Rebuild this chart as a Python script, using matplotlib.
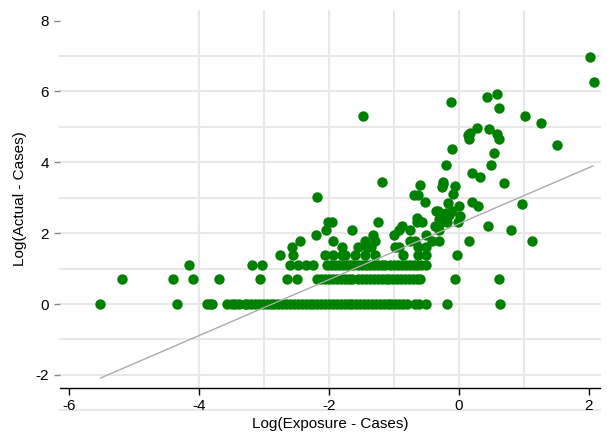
import numpy as np
import matplotlib.pyplot as plt

plt.rcParams['font.family'] = ['Liberation Sans', 'DejaVu Sans']
plt.rcParams['axes.unicode_minus'] = False

# rows of points sitting on log of small counts
row0_x = [-5.52, -4.34, -3.88, -3.83, -3.8, -3.57, -3.5, -3.45, -3.38, -3.3,
          -3.26, -3.2, -3.14, -3.08, -3.02, -2.96, -2.9, -2.84, -2.78, -2.72,
          -2.66, -2.6, -2.54, -2.48, -2.42, -2.36, -2.3, -2.24, -2.18, -2.12,
          -2.06, -2.0, -1.94, -1.88, -1.82, -1.76, -1.7, -1.64, -1.58, -1.52,
          -1.46, -1.4, -1.34, -1.28, -1.22, -1.16, -1.1, -1.04, -0.98, -0.92,
          -0.86, -0.8, -0.68, -0.62, -0.5, -0.18, 0.63]
row1_x = [-5.18, -4.4, -4.1, -3.69, -3.06, -2.65, -2.5,
          -2.18, -2.12, -2.06, -2.0, -1.94, -1.88, -1.82, -1.76, -1.7, -1.65,
          -1.55, -1.49, -1.43, -1.37, -1.31, -1.25, -1.19, -1.13, -1.07, -1.01,
          -0.95, -0.89, -0.83, -0.77, -0.71, -0.65, -0.6, -0.06, 0.62]
row2_x = [-4.15, -3.18, -3.03, -2.6, -2.48, -2.35, -2.25,
          -2.03, -1.97, -1.91, -1.85, -1.79, -1.73, -1.67, -1.63,
          -1.55, -1.49, -1.43, -1.37, -1.31, -1.25, -1.19, -1.14,
          -1.06, -1.0, -0.94, -0.88, -0.82, -0.76, -0.7, -0.64, -0.58, -0.5]
row3_x = [-2.75, -2.55, -2.06, -1.94, -1.8, -1.75, -1.6, -1.45, -1.3,
          -0.86, -0.63, -0.5, -0.03]
row4_x = [-2.57, -1.8, -1.55, -1.42, -1.35, -0.98, -0.93, -0.63, -0.5]
row5_x = [-2.45, -1.94, -1.45, -1.3, -0.75, -0.68, -0.42, -0.3, 0.15, 1.12]
row6_x = [-2.2, -1.32, -1.0, -0.5]
row7_x = [-2.05, -1.65, -0.92, -0.75, -0.3, 0.8]
row8_x = [-0.88, -0.37, -0.34, 0.45]
row9_x = [-2.02, -1.95, -1.25, -0.65, -0.57, -0.26, -0.18, -0.02]

rows_x = [row0_x, row1_x, row2_x, row3_x, row4_x, row5_x, row6_x, row7_x, row8_x, row9_x]
rows_y = [0.0, 0.693, 1.099, 1.386, 1.609, 1.792, 1.946, 2.079, 2.197, 2.303]

# scattered points higher up
other_x = [-2.18, -1.48, -1.18, -0.69, -0.63, -0.6, -0.52, -0.65, -0.3, -0.26,
           -0.25, -0.24, -0.06, -0.09, -0.2, -0.11, 0.14, 0.15, 0.17, 0.2,
           0.32, 0.69, 0.2, 0.29, 0.97, -0.32, -0.17, 0.0, 0.02, -0.2,
           -0.15, -0.28, -0.12, 0.43, 0.58, 0.62, 1.02, 1.26, 0.28, 0.46,
           0.58, 0.62, 1.51, 0.54, 0.49, 2.02, 2.08, -0.36, -0.1]
other_y = [3.02, 5.31, 3.45, 3.08, 3.08, 3.35, 2.88, 2.43, 2.4, 3.3,
           3.45, 3.38, 3.33, 3.1, 3.93, 4.38, 4.77, 4.66, 4.83, 3.7,
           3.59, 3.43, 2.88, 2.77, 2.82, 2.64, 2.85, 2.77, 2.48, 2.56,
           2.5, 2.5, 5.7, 5.85, 5.93, 5.53, 5.31, 5.11, 4.97, 4.94,
           4.8, 4.66, 4.49, 4.26, 3.93, 6.97, 6.27, 2.62, 2.64]

fit_x = [-5.52, 2.06]
fit_slope = 0.79
fit_int = 2.27

xs = np.concatenate([np.array(r) for r in rows_x] + [np.array(other_x)])
ys = np.concatenate([np.full(len(r), v) for r, v in zip(rows_x, rows_y)] + [np.array(other_y)])

fig = plt.figure(figsize=(6.07, 4.34), dpi=100)
ax = fig.add_axes([60/607, 1-388/434, 540/607, 378/434])
ax.set_xlim(-6.14, 2.17)
ax.set_ylim(-2.37, 8.3)

for v in range(-3, 8):
    ax.axhline(v, color='#e8e8e8', lw=1.5, zorder=0, clip_on=False)
for v in range(-4, 2):
    ax.axvline(v, color='#e8e8e8', lw=1.5, zorder=0)

ax.scatter(xs, ys, s=56, color='#008000', zorder=3, linewidths=0)
fx = np.array(fit_x)
ax.plot(fx, fit_int + fit_slope*fx, color='#aaaaaa', lw=1, zorder=4)

for s in ['top', 'right', 'left']:
    ax.spines[s].set_visible(False)
ax.spines['bottom'].set_color('black')
ax.spines['bottom'].set_linewidth(1)

ax.set_xticks([-6, -4, -2, 0, 2])
ax.set_yticks([-2, 0, 2, 4, 6, 8])
ax.tick_params(axis='x', length=5, width=1, color='black', labelsize=11, pad=3)
ax.tick_params(axis='y', length=4, width=1, color='#888888', labelsize=11, pad=4)
ax.set_xlabel('Log(Exposure - Cases)', fontsize=11, labelpad=3)
ax.set_ylabel('Log(Actual - Cases)', fontsize=11, labelpad=6)

fig.savefig('out.png', dpi=100)
